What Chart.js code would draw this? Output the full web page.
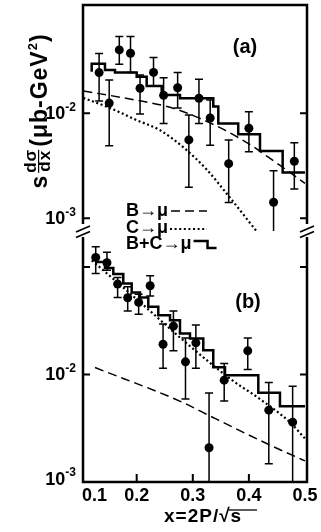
<!DOCTYPE html>
<html>
<head>
<meta charset="utf-8">
<script src="https://cdn.jsdelivr.net/npm/chart.js@4.4.0/dist/chart.umd.min.js"></script>
<style>
  html, body { margin: 0; padding: 0; background: #fff; }
  canvas { display: block; }
</style>
</head>
<body>
<canvas id="chart" width="321" height="532"></canvas>
<script>
// ---- panel (a) : measured points ----
const xA  = [0.133, 0.151, 0.169, 0.189, 0.206, 0.230, 0.248, 0.273, 0.293, 0.311, 0.331, 0.364, 0.400, 0.444, 0.481];
const yA  = [0.0244, 0.0125, 0.0401, 0.0373, 0.0173, 0.0245, 0.0148, 0.0175, 0.00557, 0.0139, 0.0090, 0.00331, 0.0072, 0.00142, 0.00349];
const loA = [0.0131, 0.0049, 0.0293, 0.0245, 0.00985, 0.0183, 0.0080, 0.0112, 0.00197, 0.0080, 0.00496, 0.00141, 0.0043, 0.00074, 0.0019];
const hiA = [0.037, 0.0207, 0.0537, 0.0537, 0.0232, 0.0339, 0.0218, 0.0244, 0.00963, 0.0211, 0.0134, 0.00557, 0.01035, 0.00284, 0.00525];
// B+C histogram (bin edges / values), B->mu dashed, C->mu dotted
const histAx = [0.1198, 0.1198, 0.1435, 0.1613, 0.2, 0.2178, 0.2446, 0.2772, 0.3365, 0.3455, 0.381, 0.4198, 0.4602, 0.5];
const histAy = [0.0249, 0.0296, 0.0258, 0.0245, 0.0223, 0.0182, 0.0149, 0.0139, 0.0116, 0.0080, 0.0063, 0.00438, 0.00272, 0.00272];
const bAx = [0.105, 0.197, 0.2594, 0.301, 0.3574, 0.408, 0.432, 0.455, 0.5];
const bAy = [0.0163, 0.0134, 0.0114, 0.0095, 0.0069, 0.0048, 0.0039, 0.0032, 0.00215];
const cAx = [0.105, 0.1526, 0.2, 0.2414, 0.286, 0.325, 0.36, 0.413];
const cAy = [0.0140, 0.0112, 0.0086, 0.0069, 0.0046, 0.0029, 0.00173, 0.00076];

// ---- panel (b) ----
const xB  = [0.127, 0.147, 0.166, 0.184, 0.2035, 0.224, 0.247, 0.2655, 0.287, 0.3055, 0.329, 0.356, 0.398, 0.4355, 0.478];
const yB  = [0.1227, 0.1094, 0.0693, 0.0517, 0.0468, 0.0668, 0.0191, 0.0282, 0.0131, 0.0197, 0.00208, 0.00885, 0.0166, 0.00466, 0.0036];
const loB = [0.087, 0.093, 0.052, 0.039, 0.0364, 0.0536, 0.0114, 0.0166, 0.00593, 0.0114, 0.0009, 0.00568, 0.0111, 0.00148, 0.00095];
const hiB = [0.154, 0.137, 0.080, 0.0655, 0.0556, 0.0828, 0.0294, 0.0389, 0.0219, 0.0288, 0.00674, 0.01265, 0.0219, 0.0084, 0.00778];
const histBx = [0.1257, 0.1435, 0.1583, 0.1761, 0.1911, 0.2059, 0.2207, 0.2385, 0.2594, 0.2772, 0.295, 0.3187, 0.3365, 0.3574, 0.4168, 0.4554, 0.5];
const histBy = [0.111, 0.0977, 0.0859, 0.0703, 0.0578, 0.0519, 0.0426, 0.0356, 0.032, 0.0241, 0.0216, 0.0168, 0.0117, 0.00985, 0.00678, 0.00507, 0.00507];
const bBx = [0.1257, 0.28, 0.3243, 0.4317, 0.5];
const bBy = [0.0116, 0.00556, 0.00427, 0.00228, 0.00157];
const cBx = [0.12, 0.212, 0.289, 0.372, 0.414, 0.473, 0.5];
const cBy = [0.115, 0.0442, 0.0195, 0.0087, 0.0062, 0.0036, 0.00254];

// ---- axes ----
const xTicks = [0.1, 0.2, 0.3, 0.4, 0.5];
const yDecades = [0.1, 0.01, 0.001];
const yLabelVals = [0.01, 0.001];
const yLabelExp = ['-2', '-3'];
const legendText = ['B\u2192\u03bc', 'C\u2192\u03bc', 'B+C\u2192\u03bc'];

const FONT = '"Liberation Sans", Arial, Helvetica, sans-serif';

function pts(xs, ys) {
    return xs.map((x, i) => ({ x: x, y: ys[i] }));
}

function points(xs, ys, axis) {
    return { data: pts(xs, ys), yAxisID: axis, showLine: false, pointRadius: 4.5,
             pointBackgroundColor: '#000', pointBorderWidth: 0 };
}
function hist(xs, ys, axis) {
    return { data: pts(xs, ys), yAxisID: axis, showLine: true, stepped: true,
             borderColor: '#000', borderWidth: 2.5, pointRadius: 0 };
}
function curve(xs, ys, axis, dash, w) {
    return { data: pts(xs, ys), yAxisID: axis, showLine: true, borderColor: '#000',
             borderWidth: w, borderDash: dash, pointRadius: 0, cubicInterpolationMode: 'monotone' };
}

function drawErrors(ctx, sx, sy, xs, lo, hi) {
    ctx.save();
    ctx.strokeStyle = '#000';
    ctx.lineWidth = 1.5;
    xs.forEach((x, i) => {
        const px = sx.getPixelForValue(x);
        let p1 = sy.getPixelForValue(hi[i]);
        let p2 = sy.getPixelForValue(lo[i]);
        const cap1 = p1 >= sy.top, cap2 = p2 <= sy.bottom;
        p1 = Math.max(p1, sy.top);
        p2 = Math.min(p2, sy.bottom);
        ctx.beginPath();
        ctx.moveTo(px, p1); ctx.lineTo(px, p2);
        if (cap1) { ctx.moveTo(px - 4, p1); ctx.lineTo(px + 4, p1); }
        if (cap2) { ctx.moveTo(px - 4, p2); ctx.lineTo(px + 4, p2); }
        ctx.stroke();
    });
    ctx.restore();
}

// rotated y title: s dσ/dx (μb-GeV²)
function drawYTitle(ctx, cx, cy) {
    const big = 'bold 23px ' + FONT, mid = 'bold 17px ' + FONT, sm = 'bold 13px ' + FONT;
    ctx.save();
    ctx.translate(cx, cy);
    ctx.rotate(-Math.PI / 2);
    ctx.fillStyle = '#000';
    ctx.textAlign = 'left';
    ctx.textBaseline = 'alphabetic';
    ctx.letterSpacing = '1px';
    ctx.font = big;
    const wS = ctx.measureText('s').width;
    const wO = ctx.measureText('(').width;
    const wU = ctx.measureText('\u03bcb-GeV').width;
    const wC = ctx.measureText(')').width;
    ctx.font = mid;
    const wN = ctx.measureText('d\u03c3').width, wD = ctx.measureText('dx').width;
    const wF = Math.max(wN, wD);
    ctx.font = sm;
    const w2 = ctx.measureText('2').width;
    const gap = 2;
    const total = wS + gap + wF + gap + wO + wU + w2 + wC;
    let x = -total / 2;
    ctx.font = big;
    ctx.fillText('s', x, 0);
    x += wS + gap;
    ctx.font = mid;
    ctx.fillText('d\u03c3', x + (wF - wN) / 2, -11);
    ctx.fillText('dx', x + (wF - wD) / 2, 3);
    ctx.fillRect(x, -9, wF - 1, 1.2);
    x += wF + gap;
    ctx.font = big;
    ctx.fillText('(', x, 0); x += wO;
    ctx.fillText('\u03bcb-GeV', x, 0); x += wU;
    ctx.font = sm;
    ctx.fillText('2', x, -10); x += w2;
    ctx.font = big;
    ctx.fillText(')', x, 0);
    ctx.restore();
}

const deco = {
    id: 'deco',
    afterDatasetsDraw(chart) {
        const ctx = chart.ctx, sx = chart.scales.x;
        drawErrors(ctx, sx, chart.scales.ya, xA, loA, hiA);
        drawErrors(ctx, sx, chart.scales.yb, xB, loB, hiB);
    },
    afterDraw(chart) {
        const ctx = chart.ctx, sx = chart.scales.x, ya = chart.scales.ya, yb = chart.scales.yb;
        const a = chart.chartArea;
        const L = a.left, R = a.right, T = a.top, B = a.bottom, brk = ya.bottom;
        ctx.save();
        ctx.strokeStyle = '#000';
        ctx.fillStyle = '#000';
        ctx.lineCap = 'butt';

        // frame with axis break
        ctx.lineWidth = 2.5;
        ctx.beginPath();
        ctx.moveTo(L, brk - 7); ctx.lineTo(L, T); ctx.lineTo(R, T); ctx.lineTo(R, brk - 7);
        ctx.moveTo(L, brk + 6); ctx.lineTo(L, B); ctx.lineTo(R, B); ctx.lineTo(R, brk + 6);
        ctx.stroke();
        ctx.lineWidth = 1.8;
        ctx.beginPath();
        [L, R].forEach(X => {
            ctx.moveTo(X - 7, brk + 1); ctx.lineTo(X + 7, brk - 5);
            ctx.moveTo(X - 7, brk + 6.5); ctx.lineTo(X + 7, brk + 0.5);
        });
        ctx.stroke();

        // inward ticks
        ctx.lineWidth = 2;
        ctx.beginPath();
        [ya, yb].forEach(s => {
            yDecades.forEach(v => {
                const p = s.getPixelForValue(v);
                if (p < s.top + 5 || p > s.bottom - 5) return;
                ctx.moveTo(L, p); ctx.lineTo(L + 7, p);
                ctx.moveTo(R, p); ctx.lineTo(R - 7, p);
            });
        });
        xTicks.forEach(v => {
            const p = sx.getPixelForValue(v);
            if (p < L + 5 || p > R - 5) return;
            ctx.moveTo(p, B); ctx.lineTo(p, B - 8);
        });
        ctx.stroke();

        // y tick labels 10^-n
        [ya, yb].forEach(s => {
            yLabelVals.forEach((v, i) => {
                let p = s.getPixelForValue(v);
                if (p > s.bottom - 3) p -= 3;
                ctx.font = 'bold 12px ' + FONT;
                ctx.textAlign = 'left';
                ctx.textBaseline = 'middle';
                const we = ctx.measureText(yLabelExp[i]).width;
                const xe = L - 7 - we;
                ctx.fillText(yLabelExp[i], xe, p - 6);
                ctx.font = 'bold 18px ' + FONT;
                ctx.textAlign = 'right';
                ctx.fillText('10', xe, p + 1);
            });
        });

        // x tick labels
        ctx.font = 'bold 18px ' + FONT;
        ctx.textAlign = 'center';
        ctx.textBaseline = 'middle';
        xTicks.forEach(v => {
            const t = v.toFixed(1);
            const w = ctx.measureText(t).width;
            const p = Math.max(sx.getPixelForValue(v), L + w / 2 - 1);
            ctx.fillText(t, p, B + 14);
        });

        // x title
        ctx.font = 'bold 19px ' + FONT;
        ctx.textAlign = 'left';
        ctx.letterSpacing = '1px';
        const xt = 'x=2P/\u221as';
        const x0 = 164;
        ctx.fillText(xt, x0, B + 35);
        const ws = ctx.measureText('x=2P/\u221a').width;
        ctx.letterSpacing = '0px';
        ctx.lineWidth = 1.3;
        ctx.beginPath();
        ctx.moveTo(x0 + ws - 2, B + 28); ctx.lineTo(257, B + 28);
        ctx.stroke();

        // y title
        drawYTitle(ctx, 47, 111);

        // panel labels
        ctx.font = 'bold 20px ' + FONT;
        ctx.textAlign = 'center';
        ctx.textBaseline = 'middle';
        ctx.fillText('(a)', 245, 47);
        ctx.fillText('(b)', 248, 302);

        // legend
        ctx.font = 'bold 18px ' + FONT;
        ctx.textAlign = 'left';
        const ly = [211, 228, 244];
        const ends = legendText.map((t, i) => {
            ctx.fillText(t, 126, ly[i]);
            return 126 + ctx.measureText(t).width;
        });
        ctx.lineWidth = 1.5;
        ctx.setLineDash([9, 5]);
        ctx.beginPath(); ctx.moveTo(ends[0] + 3, ly[0]); ctx.lineTo(207, ly[0]); ctx.stroke();
        ctx.lineWidth = 2.2;
        ctx.setLineDash([2, 2.6]);
        ctx.beginPath(); ctx.moveTo(ends[1] + 2, ly[1] + 1); ctx.lineTo(207, ly[1] + 1); ctx.stroke();
        ctx.setLineDash([]);
        ctx.lineWidth = 2.5;
        ctx.beginPath();
        ctx.moveTo(ends[2] + 2, ly[2] - 3); ctx.lineTo(ends[2] + 16, ly[2] - 3);
        ctx.lineTo(ends[2] + 16, ly[2] + 4); ctx.lineTo(ends[2] + 25, ly[2] + 4);
        ctx.stroke();
        ctx.restore();
    }
};

const ctx = document.getElementById('chart');
const chart = new Chart(ctx, {
    type: 'scatter',
    data: {
        datasets: [
            points(xA, yA, 'ya'),
            hist(histAx, histAy, 'ya'),
            curve(bAx, bAy, 'ya', [9, 5], 1.5),
            curve(cAx, cAy, 'ya', [2, 2.6], 2.2),
            points(xB, yB, 'yb'),
            hist(histBx, histBy, 'yb'),
            curve(bBx, bBy, 'yb', [9, 5], 1.5),
            curve(cBx, cBy, 'yb', [2, 2.6], 2.2)
        ]
    },
    options: {
        responsive: false,
        animation: false,
        devicePixelRatio: 1,
        layout: { padding: { top: 5, right: 14, left: 0, bottom: 0 } },
        plugins: { legend: { display: false }, tooltip: { enabled: false } },
        scales: {
            x: {
                type: 'linear', min: 0.1043, max: 0.5036,
                ticks: { display: false },
                grid: { display: false, drawTicks: false },
                border: { display: false },
                afterFit: s => { s.height = 50; }
            },
            yb: {
                type: 'logarithmic', position: 'left', stack: 'y', stackWeight: 251,
                min: 0.001, max: 0.216,
                ticks: { display: false },
                grid: { display: false, drawTicks: false },
                border: { display: false },
                afterFit: s => { s.width = 83; }
            },
            ya: {
                type: 'logarithmic', position: 'left', stack: 'y', stackWeight: 226,
                min: 0.000756, max: 0.1074,
                ticks: { display: false },
                grid: { display: false, drawTicks: false },
                border: { display: false },
                afterFit: s => { s.width = 83; }
            }
        }
    },
    plugins: [deco]
});
</script>
</body>
</html>
